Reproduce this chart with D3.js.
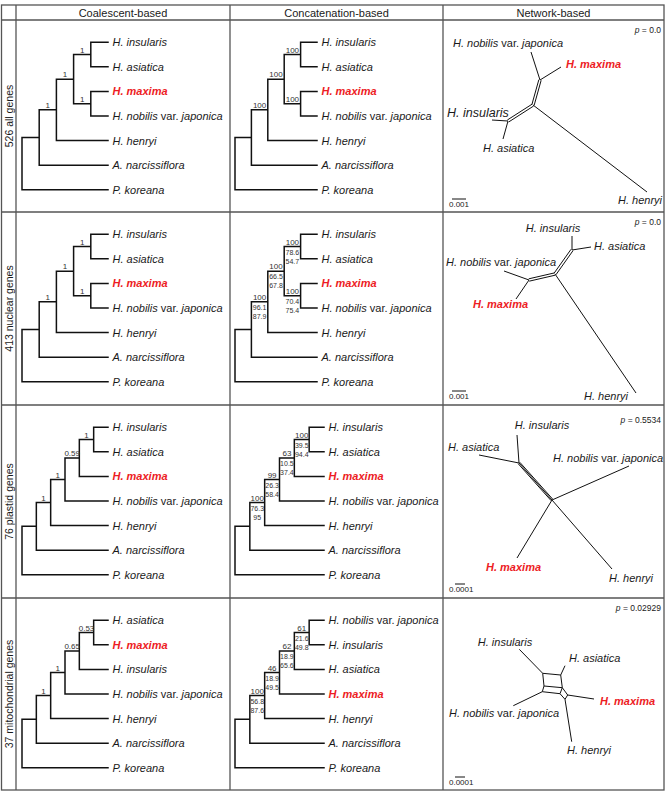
<!DOCTYPE html>
<html>
<head>
<meta charset="utf-8">
<title>Trees</title>
<script src="https://cdn.jsdelivr.net/npm/d3@7/dist/d3.min.js"></script>
<style>
	body { margin: 0; background: #fff; }
	svg { display: block; font-family: "Liberation Sans", Arial, sans-serif; }
	text { white-space: pre; }
</style>
</head>
<body>
<svg id="chart" width="670" height="799"></svg>
<script>

// ---------- values ----------

var colHeaders = ["Coalescent-based", "Concatenation-based", "Network-based"];
var rowLabels = ["526 all genes", "413 nuclear genes", "76 plastid genes", "37 mitochondrial genes"];

var taxa = {
	ins: "H. insularis",
	asi: "H. asiatica",
	max: "H. maxima",
	nob: "H. nobilis var. japonica",
	hen: "H. henryi",
	nar: "A. narcissiflora",
	kor: "P. koreana"
};
var highlighted = "max";

// newick strings, support values on the internal nodes
var coalescentTrees = [
	"(((((ins,asi)1,(max,nob)1)1,hen)1,nar),kor)",
	"(((((ins,asi)1,(max,nob)1)1,hen)1,nar),kor)",
	"((((((ins,asi)1,max)0.59,nob)1,hen)1,nar),kor)",
	"((((((asi,max)0.53,ins)0.65,nob)1,hen)1,nar),kor)"
];

// bootstrap / gCF / sCF
var concatenationTrees = [
	"(((((ins,asi)100,(max,nob)100)100,hen)100,nar),kor)",
	"(((((ins,asi)100/78.6/54.7,(max,nob)100/70.4/75.4)100/66.5/67.8,hen)100/96.1/87.9,nar),kor)",
	"((((((ins,asi)100/39.5/94.4,max)63/10.5/37.4,nob)99/26.3/58.4,hen)100/76.3/95,nar),kor)",
	"((((((nob,ins)61/21.6/49.8,asi)62/18.9/65.6,max)46/18.9/49.5,hen)100/56.8/87.6,nar),kor)"
];

var networkP = ["0.0", "0.0", "0.5534", "0.02929"];
var scaleBarLabels = ["0.001", "0.001", "0.0001", "0.0001"];

// split networks: [id, x, y] in panel units, edges [from, to, parallel lines]
var netAllNodes = [["j1", 97, 60], ["j2", 90, 85], ["j3", 65, 101],
	["nob", 88, 32], ["max", 118, 47], ["ins", 49, 100], ["asi", 60, 119], ["hen", 204, 172]];
var netAllEdges = [["nob", "j1"], ["max", "j1"], ["j1", "j2", 2], ["j2", "j3", 2],
	["ins", "j3"], ["asi", "j3"], ["hen", "j2"]];

var netNucNodes = [["j1", 129, 38], ["j2", 112, 62], ["j3", 86, 68],
	["ins", 129, 24], ["asi", 148, 35], ["hen", 193, 181], ["nob", 61, 59], ["max", 73, 87]];
var netNucEdges = [["ins", "j1"], ["asi", "j1"], ["j1", "j2", 2], ["j2", "j3", 2],
	["hen", "j2"], ["nob", "j3"], ["max", "j3"]];

var netPlaNodes = [["j1", 76, 58], ["j2", 109, 95],
	["ins", 74, 30], ["asi", 36, 50], ["nob", 186, 61], ["max", 74, 153], ["hen", 169, 164]];
var netPlaEdges = [["ins", "j1"], ["asi", "j1"], ["j1", "j2", 3],
	["nob", "j2"], ["max", "j2"], ["hen", "j2"]];

var netMitNodes = [["a", 99.7, 75.3], ["b", 117.7, 77], ["c", 101, 88], ["d", 119.3, 89.7],
	["e", 99.3, 93.7], ["f", 117, 95.7], ["g", 124.7, 97], ["h", 122, 101.3],
	["ins", 76.3, 51.3], ["asi", 122, 67.7], ["nob", 70.3, 107.7], ["max", 151, 101], ["hen", 128.7, 143.7]];
var netMitEdges = [["ins", "a"], ["asi", "b"], ["nob", "e"], ["max", "g"], ["hen", "h"],
	["a", "b"], ["c", "d"], ["e", "f"], ["a", "c"], ["b", "d"], ["c", "e"], ["d", "f"],
	["d", "g"], ["f", "h"], ["g", "h"]];

var networkNodes = [netAllNodes, netNucNodes, netPlaNodes, netMitNodes];
var networkEdges = [netAllEdges, netNucEdges, netPlaEdges, netMitEdges];


// ---------- layout ----------

var colEdges = [16, 230, 443, 664];
var rowEdges = [20, 212, 405, 598, 790];
var frame = {left: 1.5, top: 5, right: 664, bottom: 790};

var treeRoot = [22, 235];
var treeTips = [[108, 317], [108, 317], [108, 324], [108, 324]];
var tipTop = 10, tipBottom = 182;

// network label placement: [id, x, y, anchor, font size]
var netLabelLayout = [
	[["nob", 65, 27, "middle"], ["max", 123, 48, "start"], ["ins", 4, 97, "start", 12.5],
		["asi", 40, 132, "start"], ["hen", 219, 184, "end"]],
	[["ins", 110, 20, "middle"], ["asi", 151, 38, "start"], ["nob", 3, 54, "start"],
		["max", 30, 96, "start"], ["hen", 185, 188, "end"]],
	[["ins", 99, 24, "middle"], ["asi", 5, 46, "start"], ["nob", 110, 57, "start"],
		["max", 43, 166, "start"], ["hen", 166, 177, "start"]],
	[["ins", 62, 48, "middle"], ["asi", 126, 64, "start"], ["max", 157, 107, "start"],
		["nob", 6, 119, "start"], ["hen", 124, 156, "start"]]
];
var pBaseline = [13, 13, 18, 13];
var scaleBarX = [9, 9, 12, 12];
var scaleBarW = [14, 14, 10, 10];

var lineColor = "#111";
var textColor = "#1a1a1a";
var frameColor = "#555";
var red = "#ed1c24";


var svg = d3.select("#chart");


// a tiny newick reader, enough for these trees
function parseNewick(s) {
	var i = 0;
	function node() {
		var n = {};
		if (s[i] === "(") {
			i++;
			n.children = [];
			do {
				n.children.push(node());
			} while (s[i++] === ",");
		}
		var start = i;
		while (i < s.length && ",);".indexOf(s[i]) < 0) i++;
		var lab = s.slice(start, i);
		if (n.children) n.support = lab; else n.id = lab;
		return n;
	}
	return node();
}


function addTaxonName(sel, id) {
	var parts = taxa[id].split(" var. ");
	sel.append("tspan").style("font-style", "italic").text(parts[0]);
	if (parts.length > 1) {
		sel.append("tspan").text(" var. ");
		sel.append("tspan").style("font-style", "italic").text(parts[1]);
	}
	if (id === highlighted) {
		sel.attr("fill", red).attr("font-weight", "bold");
	}
}


// ---------- grid ----------

var grid = svg.append("g")
	.attr("stroke", frameColor)
	.attr("stroke-width", 1.3)
	.attr("fill", "none");

grid.append("rect")
	.attr("x", frame.left).attr("y", frame.top)
	.attr("width", frame.right - frame.left)
	.attr("height", frame.bottom - frame.top);

rowEdges.slice(0, 4).forEach(function(y) {
	grid.append("line").attr("x1", frame.left).attr("x2", frame.right).attr("y1", y).attr("y2", y);
});
colEdges.slice(0, 3).forEach(function(x) {
	grid.append("line").attr("x1", x).attr("x2", x).attr("y1", frame.top).attr("y2", frame.bottom);
});

colHeaders.forEach(function(h, i) {
	svg.append("text")
		.attr("x", (colEdges[i] + colEdges[i + 1]) / 2)
		.attr("y", 16.5)
		.attr("text-anchor", "middle")
		.attr("font-size", 11)
		.attr("fill", textColor)
		.text(h);
});

rowLabels.forEach(function(l, i) {
	svg.append("text")
		.attr("transform", "translate(13," + ((rowEdges[i] + rowEdges[i + 1]) / 2) + ") rotate(-90)")
		.attr("text-anchor", "middle")
		.attr("font-size", 10.5)
		.attr("fill", textColor)
		.text(l);
});


// ---------- trees ----------

function drawTree(newick, r, c) {
	var root = d3.hierarchy(parseNewick(newick));
	d3.cluster().size([1, 1]).separation(function() { return 1; })(root);

	var top = rowEdges[r];
	var xs = d3.scaleLinear().domain([0, 1]).range([treeRoot[c], treeTips[r][c]]);
	var ys = d3.scaleLinear().domain([0, 1]).range([top + tipTop, top + tipBottom]);

	var g = svg.append("g");
	var path = d3.path();

	root.each(function(n) {
		if (n.children) {
			path.moveTo(xs(n.y), ys(n.children[0].x));
			path.lineTo(xs(n.y), ys(n.children[n.children.length - 1].x));
		}
		if (n.parent) {
			path.moveTo(xs(n.parent.y), ys(n.x));
			path.lineTo(xs(n.y), ys(n.x));
		}
	});

	g.append("path")
		.attr("d", path.toString())
		.attr("fill", "none")
		.attr("stroke", lineColor)
		.attr("stroke-width", 1.5)
		.attr("stroke-linecap", "square");

	// tip names
	root.leaves().forEach(function(n) {
		var t = g.append("text")
			.attr("x", xs(n.y) + 4.5)
			.attr("y", ys(n.x))
			.attr("dy", "0.36em")
			.attr("font-size", 11)
			.attr("fill", textColor);
		addTaxonName(t, n.data.id);
	});

	// support values, centred on the branch
	root.descendants().forEach(function(n) {
		if (!n.children || !n.data.support || !n.parent) return;
		var vals = n.data.support.split("/");
		var mx = (xs(n.parent.y) + xs(n.y)) / 2;
		var y = ys(n.x);
		g.append("text")
			.attr("x", mx).attr("y", y - 2)
			.attr("text-anchor", "middle")
			.attr("font-size", 8)
			.attr("fill", "#333")
			.text(vals[0]);
		vals.slice(1).forEach(function(v, k) {
			g.append("text")
				.attr("x", mx).attr("y", y + 8 + k * 9)
				.attr("text-anchor", "middle")
				.attr("font-size", 7)
				.attr("fill", "#333")
				.text(v);
		});
	});
}

coalescentTrees.forEach(function(t, r) { drawTree(t, r, 0); });
concatenationTrees.forEach(function(t, r) { drawTree(t, r, 1); });


// ---------- networks ----------

function drawNetwork(r) {
	var x0 = colEdges[2], y0 = rowEdges[r];
	var xs = d3.scaleLinear().domain([0, 221]).range([x0, x0 + 221]);
	var ys = d3.scaleLinear().domain([0, 192]).range([y0, y0 + 192]);

	var pos = {};
	networkNodes[r].forEach(function(d) { pos[d[0]] = [xs(d[1]), ys(d[2])]; });

	var g = svg.append("g");
	var path = d3.path();

	networkEdges[r].forEach(function(e) {
		var a = pos[e[0]], b = pos[e[1]];
		var k = e[2] || 1;
		var dx = b[0] - a[0], dy = b[1] - a[1];
		var len = Math.sqrt(dx * dx + dy * dy);
		var ox = -dy / len * 1.2, oy = dx / len * 1.2;
		// parallel split edges drawn side by side
		for (var s = 0; s < k; s++) {
			var off = s - (k - 1) / 2;
			path.moveTo(a[0] + off * ox * (k > 2 ? 0.9 : 2) / 1, a[1] + off * oy * (k > 2 ? 0.9 : 2));
			path.lineTo(b[0] + off * ox * (k > 2 ? 0.9 : 2), b[1] + off * oy * (k > 2 ? 0.9 : 2));
		}
	});

	g.append("path")
		.attr("d", path.toString())
		.attr("fill", "none")
		.attr("stroke", lineColor)
		.attr("stroke-width", 1);

	netLabelLayout[r].forEach(function(l) {
		var t = g.append("text")
			.attr("x", xs(l[1]))
			.attr("y", ys(l[2]))
			.attr("text-anchor", l[3])
			.attr("font-size", l[4] || 11)
			.attr("fill", textColor);
		addTaxonName(t, l[0]);
	});

	var p = g.append("text")
		.attr("x", colEdges[3] - 3)
		.attr("y", y0 + pBaseline[r])
		.attr("text-anchor", "end")
		.attr("font-size", 8.5)
		.attr("fill", textColor);
	p.append("tspan").style("font-style", "italic").text("p");
	p.append("tspan").text(" = " + networkP[r]);

	// scale bar
	g.append("line")
		.attr("x1", xs(scaleBarX[r])).attr("x2", xs(scaleBarX[r] + scaleBarW[r]))
		.attr("y1", ys(179)).attr("y2", ys(179))
		.attr("stroke", lineColor)
		.attr("stroke-width", 1);
	g.append("text")
		.attr("x", xs(6))
		.attr("y", ys(187))
		.attr("font-size", 8)
		.attr("fill", textColor)
		.text(scaleBarLabels[r]);
}

networkNodes.forEach(function(d, r) { drawNetwork(r); });

</script>
</body>
</html>
